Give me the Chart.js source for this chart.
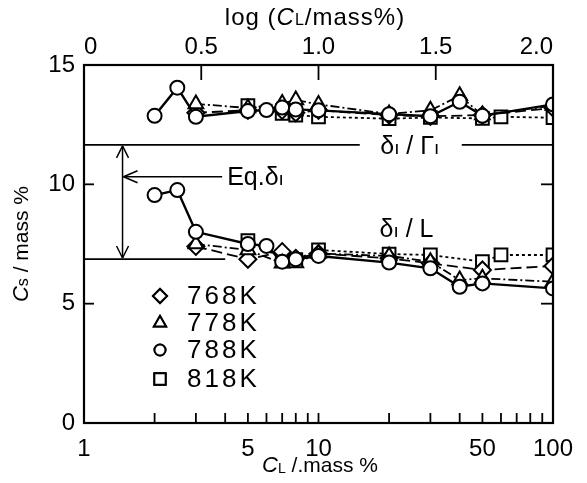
<!DOCTYPE html>
<html>
<head>
<meta charset="utf-8">
<script src="https://cdn.jsdelivr.net/npm/chart.js@4/dist/chart.umd.min.js"></script>
<style>
html,body{margin:0;padding:0;background:#fff;}
#wrap{width:587px;height:483px;position:relative;}
</style>
</head>
<body>
<div id="wrap"><canvas id="c"></canvas></div>
<script>
// ---- data (CL in mass%, Cs in mass%) ----
const temps = ['768K', '778K', '788K', '818K'];

const cl768 = [3, 5, 7, 8, 10, 20, 30, 50, 100];
const csUpper768 = [13.0, 13.1, 13.1, 13.0, 13.1, 12.9, 12.85, 12.9, 13.2];
const csLower768 = [7.4, 6.86, 7.18, 6.9, 7.1, 6.9, 6.69, 6.41, 6.58];

const cl778 = [3, 5, 7, 8, 10, 20, 30, 40, 50, 100];
const csUpper778 = [13.37, 13.2, 13.39, 13.53, 13.35, 12.95, 13.1, 13.71, 12.9, 13.3];
const csLower778 = [7.5, 7.25, 6.69, 6.7, 7.1, 7.0, 6.76, 5.99, 6.06, 5.92];

const cl788 = [2, 2.5, 3, 5, 6, 7, 8, 10, 20, 30, 40, 50, 100];
const csUpper788 = [12.87, 14.05, 12.83, 13.07, 13.11, 13.22, 13.14, 13.1, 12.94, 12.85, 13.46, 12.87, 13.35];
const csLower788 = [9.55, 9.76, 8.01, 7.5, 7.42, 6.76, 6.86, 7.0, 6.72, 6.48, 5.71, 5.85, 5.64];

const cl818 = [5, 7, 8, 10, 20, 30, 50, 60, 100];
const csUpper818 = [13.3, 12.97, 12.9, 12.83, 12.75, 12.8, 12.76, 12.83, 12.79];
const csLower818 = [7.64, 6.9, 6.85, 7.25, 7.08, 7.04, 6.76, 7.04, 7.04];

// reference lines / annotation values
const deltaGammaLevel = 11.65;   // δ1/Γ1
const deltaLLevel = 6.87;        // δ1/L
const arrowCL = 1.46;            // position of vertical double arrow
const eqArrowY = 10.32;          // Eq.δ1 arrow level
const eqArrowFromCL = 4.0;

const bottomTickLabels = [1, 5, 10, 50, 100];
const topTickValues = [0, 0.5, 1.0, 1.5, 2.0];
const yTickValues = [0, 5, 10, 15];

// ---- build datasets ----
const FONT = '"Liberation Sans", Arial, sans-serif';
function pts(xs, ys){ return xs.map((v,i)=>({x:v, y:ys[i]})); }
const styles = {
  '768K': {pointStyle:'rectRot', radius:8.5, dash:[11,5], width:1.8},
  '778K': {pointStyle:'triangle', radius:8.5, dash:[9,3,2,3], width:1.8},
  '788K': {pointStyle:'circle', radius:7, dash:[], width:2.4},
  '818K': {pointStyle:'rect', radius:9, dash:[3,3], width:1.8},
};
const series = [
  ['788K', cl788, csUpper788, csLower788],
  ['778K', cl778, csUpper778, csLower778],
  ['768K', cl768, csUpper768, csLower768],
  ['818K', cl818, csUpper818, csLower818],
];
const datasets = [];
series.forEach(([t, xs, up, lo])=>{
  const s = styles[t];
  [up, lo].forEach(ys=>{
    datasets.push({
      label: t,
      data: pts(xs, ys),
      showLine: true,
      borderColor: '#000',
      backgroundColor: '#fff',
      borderWidth: s.width,
      borderDash: s.dash,
      pointStyle: s.pointStyle,
      pointRadius: s.radius,
      pointBorderWidth: 2,
      pointBorderColor: '#000',
      pointBackgroundColor: '#fff',
      pointHoverRadius: s.radius,
      xAxisID: 'x',
      yAxisID: 'y',
    });
  });
});

// ---- helpers ----
function richText(ctx, parts, x, y, align){
  let total = 0;
  parts.forEach(p=>{ ctx.font = p.f; p.w = ctx.measureText(p.t).width + (p.sp||0); total += p.w; });
  let cx = align==='center' ? x - total/2 : (align==='right' ? x - total : x);
  ctx.textBaseline = 'middle';
  ctx.textAlign = 'left';
  parts.forEach(p=>{ ctx.font = p.f; ctx.fillText(p.t, cx, y + (p.dy||0)); cx += p.w; });
  return total;
}
function line(ctx, x1,y1,x2,y2){ ctx.beginPath(); ctx.moveTo(x1,y1); ctx.lineTo(x2,y2); ctx.stroke(); }

const decorations = {
  id: 'decorations',
  beforeDatasetsDraw(chart){
    const {ctx, chartArea:a, scales:{x, y}} = chart;
    ctx.save();
    ctx.strokeStyle = '#000';
    ctx.fillStyle = '#000';
    ctx.lineWidth = 1.8;
    ctx.setLineDash([]);
    // δ1/Γ1 line with text gap
    const yg = y.getPixelForValue(deltaGammaLevel);
    const gText = [{t:'δ', f:'25px '+FONT},{t:'ı', f:'19px '+FONT, dy:2},{t:' / ', f:'25px '+FONT},{t:'Γ', f:'25px '+FONT},{t:'ı', f:'19px '+FONT, dy:2}];
    const gx = x.getPixelForValue(24.5);
    line(ctx, a.left, yg, gx - 50, yg);
    line(ctx, gx + 52, yg, a.right, yg);
    richText(ctx, gText, gx, yg + 2, 'center');
    // δ1/L line
    const yl = y.getPixelForValue(deltaLLevel);
    line(ctx, a.left, yl, x.getPixelForValue(eqArrowFromCL), yl);
    richText(ctx, [{t:'δ', f:'25px '+FONT},{t:'ı', f:'19px '+FONT, dy:2},{t:' / L', f:'25px '+FONT}], x.getPixelForValue(18.2), y.getPixelForValue(8.1), 'left');
    // vertical double arrow
    const xa = x.getPixelForValue(arrowCL);
    ctx.lineWidth = 1.5;
    line(ctx, xa, yg + 1, xa, yl - 1);
    line(ctx, xa - 6, yg + 13, xa, yg + 1); line(ctx, xa + 6, yg + 13, xa, yg + 1);
    line(ctx, xa - 6, yl - 13, xa, yl - 1); line(ctx, xa + 6, yl - 13, xa, yl - 1);
    // Eq. arrow
    const ye = y.getPixelForValue(eqArrowY);
    const xe = x.getPixelForValue(eqArrowFromCL);
    line(ctx, xa + 1, ye, xe - 3, ye);
    line(ctx, xa + 15, ye - 6, xa + 1, ye); line(ctx, xa + 15, ye + 6, xa + 1, ye);
    richText(ctx, [{t:'Eq.', f:'25px '+FONT},{t:'δ', f:'25px '+FONT},{t:'ı', f:'19px '+FONT, dy:2}], xe + 2, ye + 1, 'left');
    ctx.restore();
  },
  afterDraw(chart){
    const {ctx, chartArea:a, scales:{x, y, x2}} = chart;
    ctx.save();
    ctx.strokeStyle = '#000';
    ctx.fillStyle = '#000';
    ctx.setLineDash([]);
    // frame
    ctx.lineWidth = 2.2;
    ctx.strokeRect(a.left, a.top, a.right - a.left, a.bottom - a.top);
    // inward ticks bottom (log)
    ctx.lineWidth = 1.8;
    for (let d of [1, 10]) for (let k = 2; k <= 9; k++){
      const px = x.getPixelForValue(k*d);
      line(ctx, px, a.bottom, px, a.bottom - 10);
    }
    line(ctx, x.getPixelForValue(10), a.bottom, x.getPixelForValue(10), a.bottom - 10);
    // top ticks
    [0.5, 1.0, 1.5].forEach(v=>{ const px = x2.getPixelForValue(v); line(ctx, px, a.top, px, a.top + 15); });
    // y ticks
    [5, 10].forEach(v=>{ const py = y.getPixelForValue(v); line(ctx, a.left, py, a.left + 10, py); line(ctx, a.right, py, a.right - 12, py); });
    // legend
    const legY = [296, 323, 350, 379];
    const legStyle = {'768K':['rectRot',7], '778K':['triangle',7], '788K':['circle',5.5], '818K':['rect',8]};
    temps.forEach((t,i)=>{
      const [ps, r] = legStyle[t];
      ctx.lineWidth = 2;
      ctx.strokeStyle = '#000'; ctx.fillStyle = '#fff';
      Chart.helpers.drawPoint(ctx, {pointStyle: ps, radius: r, rotation: 0, borderWidth: 2}, 160, legY[i]);
      ctx.fill(); ctx.stroke();
      ctx.fillStyle = '#000';
      ctx.font = '26px ' + FONT;
      ctx.letterSpacing = '3px';
      ctx.textBaseline = 'middle'; ctx.textAlign = 'left';
      ctx.fillText(t, 187, legY[i] + 1);
      ctx.letterSpacing = '0px';
    });
    // axis titles
    ctx.fillStyle = '#000';
    ctx.letterSpacing = '1px';
    richText(ctx, [{t:'log (', f:'24px '+FONT},{t:'C', f:'italic 24px '+FONT},{t:'L', f:'16px '+FONT, dy:3},{t:'/mass%)', f:'24px '+FONT}], 315, 18, 'center');
    ctx.letterSpacing = '0px';
    richText(ctx, [{t:'C', f:'italic 22px '+FONT},{t:'L', f:'14px '+FONT, dy:3},{t:' /.mass %', f:'21px '+FONT}], 320, 466, 'center');
    ctx.save();
    ctx.translate(22, 244);
    ctx.rotate(-Math.PI/2);
    richText(ctx, [{t:'C', f:'italic 22px '+FONT},{t:'s', f:'16px '+FONT, dy:2},{t:' / mass %', f:'21px '+FONT}], 0, 0, 'center');
    ctx.restore();
    ctx.restore();
  }
};

new Chart(document.getElementById('c'), {
  type: 'scatter',
  data: { datasets },
  options: {
    responsive: true,
    maintainAspectRatio: false,
    animation: false,
    events: [],
    layout: { padding: { left: 0, right: 34, top: 0, bottom: 0 } },
    plugins: { legend: {display:false}, tooltip: {enabled:false} },
    scales: {
      x: {
        type: 'logarithmic', position: 'bottom', min: 1, max: 100,
        border: {display:false},
        grid: {display:false, drawTicks:false},
        afterFit: s => { s.height = 60; },
        afterBuildTicks: s => { s.ticks = bottomTickLabels.map(v=>({value:v})); },
        ticks: { autoSkip:false, maxRotation:0, padding: 12, color:'#000', font:{family:FONT, size:24},
                 callback: v => String(v) }
      },
      x2: {
        type: 'linear', position: 'top', min: 0, max: 2,
        border: {display:false},
        grid: {display:false, drawTicks:false},
        afterFit: s => { s.height = 65; },
        afterBuildTicks: s => { s.ticks = topTickValues.map(v=>({value:v})); },
        ticks: { autoSkip:false, maxRotation:0, padding: 3, align:'inner', color:'#000', font:{family:FONT, size:24},
                 callback: v => v === 0 ? '0' : Number(v).toFixed(1) }
      },
      y: {
        type: 'linear', min: 0, max: 15,
        border: {display:false},
        grid: {display:false, drawTicks:false},
        afterFit: s => { s.width = 84; },
        afterBuildTicks: s => { s.ticks = yTickValues.map(v=>({value:v})); },
        ticks: { padding: 9, color:'#000', font:{family:FONT, size:24} }
      }
    }
  },
  plugins: [decorations]
});
</script>
</body>
</html>
